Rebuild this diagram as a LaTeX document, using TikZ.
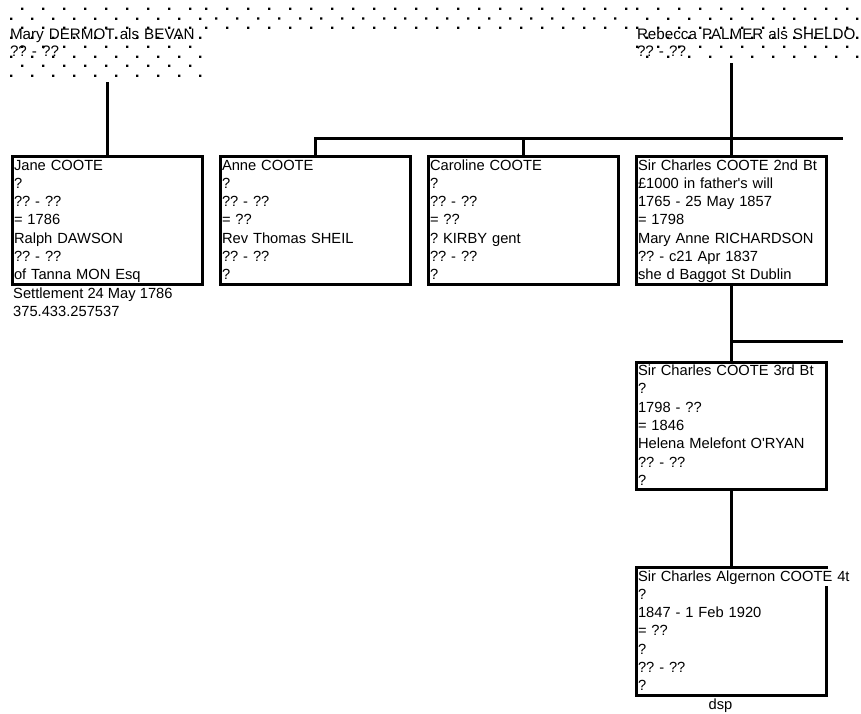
\documentclass[tikz,border=0pt]{standalone}
\usepackage{fontspec}
\setmainfont{Liberation Sans}[Ligatures=TeXOff]
\usetikzlibrary{positioning, patterns}

\pgfdeclarepatternformonly{sparse dots}{\pgfqpoint{0pt}{0pt}}{\pgfqpoint{20.5pt}{19pt}}{\pgfqpoint{20.5pt}{19pt}}{%
  \pgfpathrectangle{\pgfqpoint{0pt}{0pt}}{\pgfqpoint{2.4pt}{2.4pt}}%
  \pgfpathrectangle{\pgfqpoint{10.25pt}{9.5pt}}{\pgfqpoint{2.4pt}{2.4pt}}%
  \pgfusepath{fill}%
}

\tikzset{
  person/.style = {rectangle, draw, line width=3pt, anchor=north, inner xsep=1.5pt, inner ysep=0pt,
    text width=187pt, align=left, text height=13.5pt, text depth=114pt, font=\fontsize{14.7pt}{18.3pt}\selectfont\frenchspacing},
  parent/.style = {rectangle, pattern=sparse dots, anchor=north west, inner xsep=5pt, inner ysep=0pt,
    outer sep=0pt, align=left, text height=35pt, font=\fontsize{15.2pt}{17pt}\selectfont\frenchspacing},
  note/.style = {inner sep=0pt, align=left, font=\fontsize{14.7pt}{18.3pt}\selectfont\frenchspacing},
  line/.style = {draw, line width=3pt}
}

\begin{document}
\begin{tikzpicture}[x=1pt, y=-1pt, node distance=15pt]
  \useasboundingbox (0,0) rectangle (861,713);

  % Parents
  \fill[pattern=sparse dots] (202,4) rectangle (632,28);
  \node[parent, text width=187pt, text depth=43pt] (mary) at (5,4) {Mary DERMOT als BEVAN\\?? - ??};
  \node[parent, text width=219pt, text depth=24pt] (rebecca) at (632,4) {Rebecca PALMER als SHELDO\\?? - ??};

  % Children
  \node[person] (jane) at (107.5,155) {Jane COOTE\\?\\?? - ??\\= 1786\\Ralph DAWSON\\?? - ??\\of Tanna MON Esq};
  \node[person, right=of jane] (anne) {Anne COOTE\\?\\?? - ??\\= ??\\Rev Thomas SHEIL\\?? - ??\\?};
  \node[person, right=of anne] (caroline) {Caroline COOTE\\?\\?? - ??\\= ??\\? KIRBY gent\\?? - ??\\?};
  \node[person, right=of caroline] (charlesii) {Sir Charles COOTE 2nd Bt\\£1000 in father's will\\1765 - 25 May 1857\\= 1798\\Mary Anne RICHARDSON\\?? - c21 Apr 1837\\she d Baggot St Dublin};
  \node[person, below=75pt of charlesii] (charlesiii) {Sir Charles COOTE 3rd Bt\\?\\1798 - ??\\= 1846\\Helena Melefont O'RYAN\\?? - ??\\?};
  \node[person, below=75pt of charlesiii] (charlesiv) {\rlap{\fboxsep=0pt\colorbox{white}{\rule[-5pt]{0pt}{17pt}Sir Charles Algernon COOTE 4t}}\\?\\1847 - 1 Feb 1920\\= ??\\?\\?? - ??\\?};

  \node[note, below=2pt of jane.south west, anchor=north west, xshift=2pt] (janenote) {Settlement 24 May 1786\\375.433.257537};
  \node[note, below=2pt of charlesiv, xshift=-11pt] (charlesivnote) {dsp};

  % Lines
  \coordinate (sibend) at (843,138);
  \coordinate (kidend) at (843,341);
  \path[line] (jane.north) -- (jane.north |- mary.south);
  \path[line] (charlesii.north) -- (charlesii.north |- rebecca.south);
  \path[line] (anne.north) |- (sibend);
  \path[line] (caroline.north) -- (caroline.north |- sibend);
  \path[line] (charlesii.south) -- (charlesiii.north);
  \path[line] (charlesiii.north |- kidend) -- (kidend);
  \path[line] (charlesiii.south) -- (charlesiv.north);

\end{tikzpicture}
\end{document}
